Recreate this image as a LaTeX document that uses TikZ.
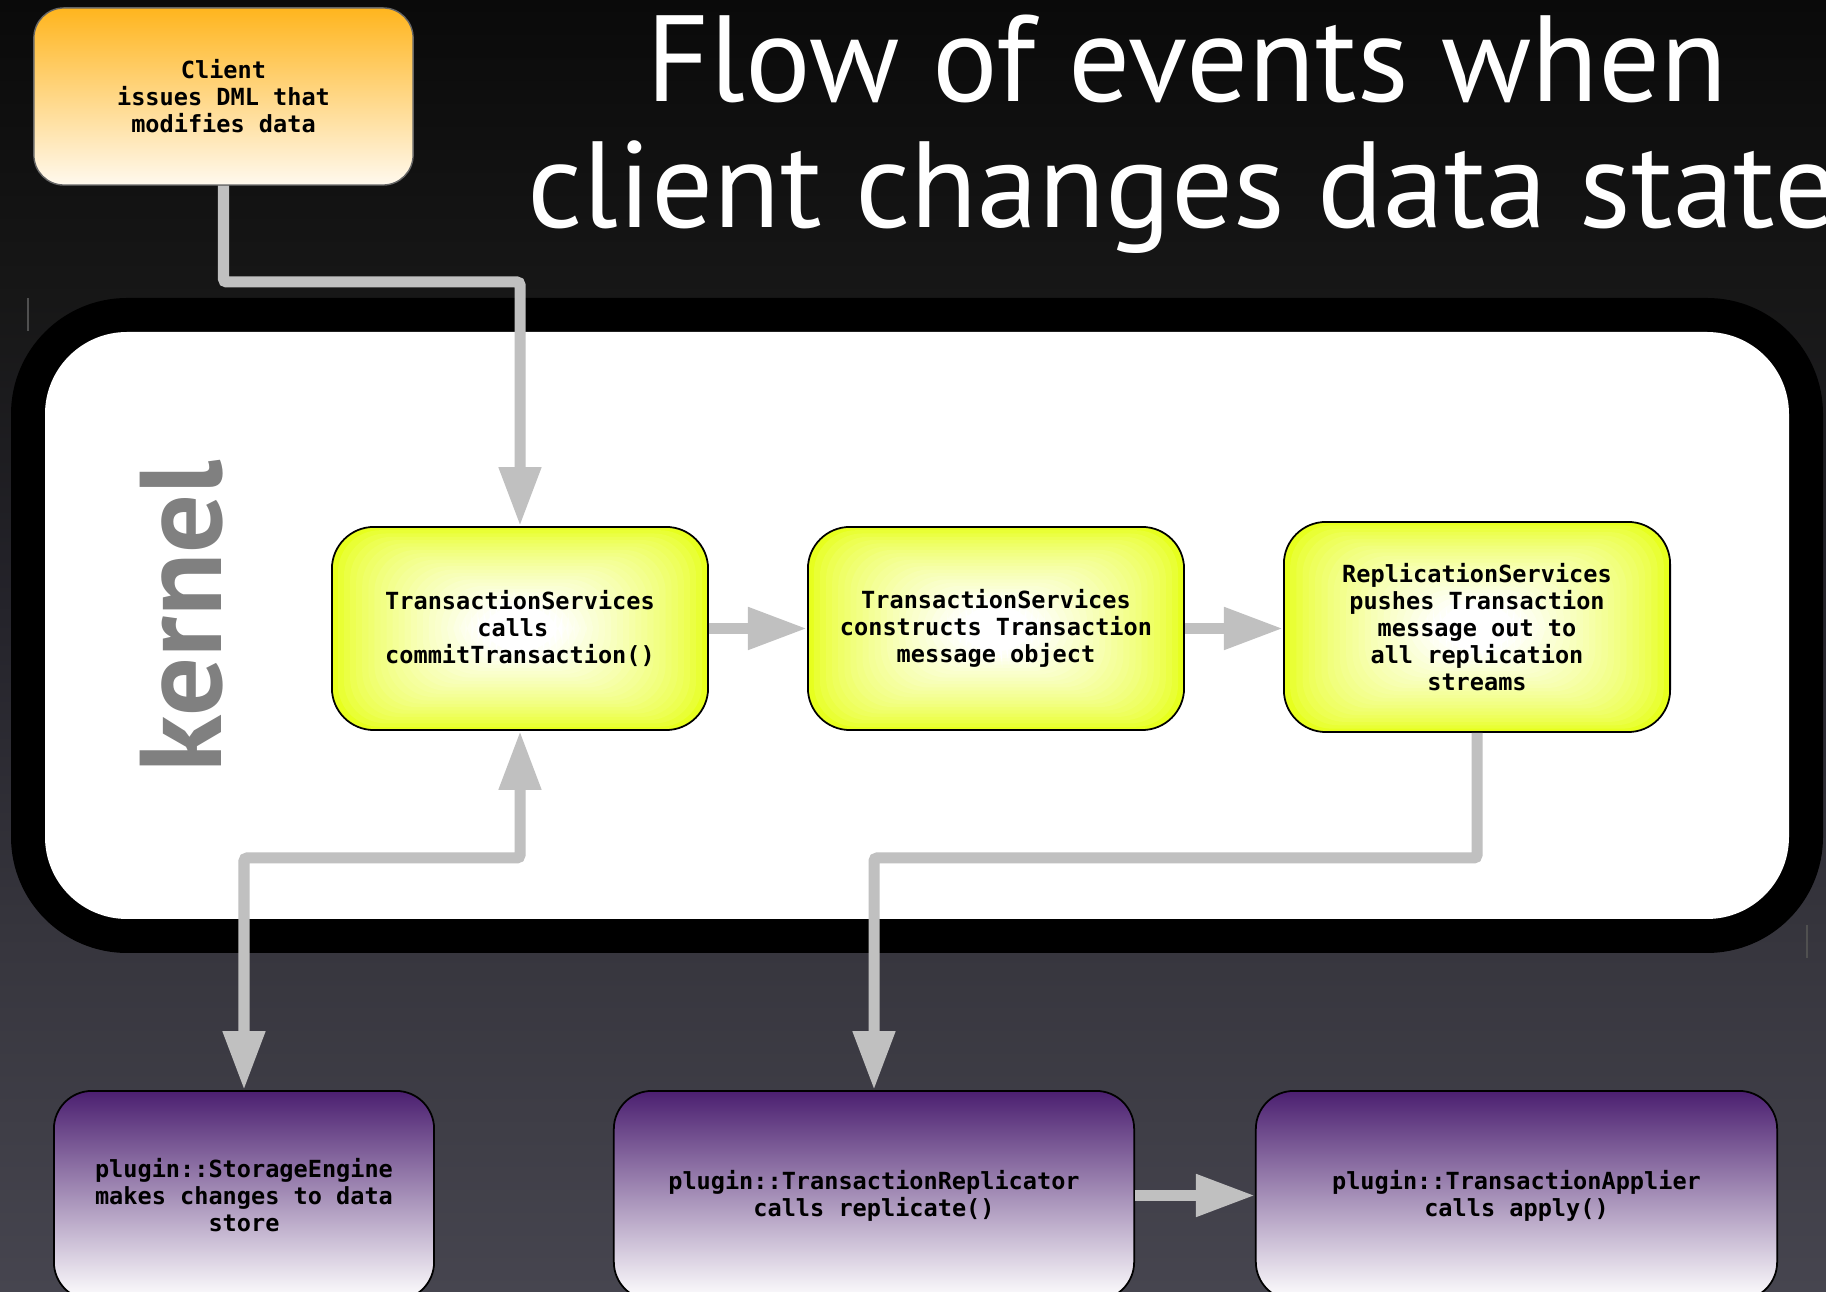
\documentclass[tikz,border=0pt]{standalone}
\usepackage{fontspec}
\setmainfont{DejaVu Sans}
\newfontfamily\titlefont{PT Sans}
\newfontfamily\monofont{DejaVu Sans Mono}
\usetikzlibrary{arrows.meta,calc}
\definecolor{bgA}{HTML}{0A0A0A}
\definecolor{bgB}{HTML}{171717}
\definecolor{bgC}{HTML}{24232A}
\definecolor{bgD}{HTML}{37363E}
\definecolor{bgE}{HTML}{46454F}
\definecolor{conncol}{HTML}{C0C0C0}
\definecolor{kgrey}{HTML}{808080}
\definecolor{orTop}{HTML}{FFB51E}
\definecolor{orBot}{HTML}{FFF9EE}
\definecolor{clientborder}{HTML}{666666}
\definecolor{yedge}{HTML}{E7FF1E}
\definecolor{puTop}{HTML}{4B1F70}
\definecolor{artline}{HTML}{505050}
\pgfdeclareverticalshading{bgshade}{100bp}{color(0bp)=(bgE); color(25bp)=(bgE); color(38.2bp)=(bgD); color(51.8bp)=(bgC); color(63.4bp)=(bgB); color(75bp)=(bgA); color(100bp)=(bgA)}
\newlength\titlew
\newlength\kernw
\tikzset{
  conn/.style={draw=conncol, line width=0.11cm, rounded corners=0.03cm, -{Triangle[length=0.59cm,width=0.40cm]}},
  boxtext/.style={font=\monofont\bfseries\fontsize{6.7pt}{7.7pt}\selectfont, align=center, text=black, inner sep=0pt},
  clientbox/.style={boxtext, rounded corners=0.30cm, draw=clientborder, line width=0.4pt, top color=orTop, bottom color=orBot, minimum width=3.79cm, minimum height=1.77cm},
  ybox/.style={boxtext, rounded corners=0.42cm, draw=black, line width=0.5pt, minimum height=2.03cm,
    path picture={
      \foreach \k in {0,...,30}{
        \pgfmathsetmacro\f{\k/31}
        \pgfmathtruncatemacro\p{min(100,100*(\k/24)^0.7)}
        \fill[fill=white!\p!yedge] ($(path picture bounding box.south west)!\f!(path picture bounding box.center)$) rectangle ($(path picture bounding box.north east)!\f!(path picture bounding box.center)$);
      }
    }},
  pbox/.style={boxtext, rounded corners=0.38cm, draw=black, line width=0.5pt, top color=puTop, bottom color=white, minimum height=2.09cm},
  titletext/.style={anchor=base, text=white, inner sep=0pt},
}
\begin{document}
\settowidth\titlew{\titlefont\fontsize{30pt}{36pt}\selectfont Flow of events when}
\settowidth\kernw{\titlefont\bfseries\fontsize{30pt}{36pt}\selectfont kernel}
\begin{tikzpicture}[x=0.01cm, y=-0.01cm]
\pgfmathsetmacro\tscale{10.81cm/\titlew}
\pgfmathsetmacro\kscale{3.12cm/\kernw}
\useasboundingbox (0,0) rectangle (1826,1292);
\fill[shading=bgshade] (0,0) rectangle (1826,1292);
% small artefact strokes
\draw[artline, line width=0.6pt] (28,298) -- (28,331);
\draw[artline, line width=0.6pt] (1807,925) -- (1807,958);
% title
\node[titletext] (title1) at (1187,102) {\scalebox{\tscale}{\titlefont\fontsize{30pt}{36pt}\selectfont Flow of events when}};
\node[titletext] (title2) at (1182,228) {\scalebox{\tscale}{\titlefont\fontsize{30pt}{36pt}\selectfont client changes data state}};
% kernel frame
\fill[black, rounded corners=1.16cm] (11,298) rectangle (1823,953);
\fill[white, rounded corners=0.82cm] (45,332) rectangle (1789,919);
\node[rotate=90, anchor=base, text=kgrey, inner sep=0pt] (kernel) at (221,616) {\scalebox{\kscale}{\titlefont\bfseries\fontsize{30pt}{36pt}\selectfont kernel}};
% nodes
\node[clientbox] (client) at (223.5,96.5) {Client\\issues DML that\\modifies data};
\node[ybox, minimum width=3.76cm] (ts1) at (520,628.5) {TransactionServices\\calls\hphantom{c}\\commitTransaction()};
\node[ybox, minimum width=3.76cm] (ts2) at (996,628.5) {TransactionServices\\constructs Transaction\\message object};
\node[ybox, minimum width=3.86cm, minimum height=2.10cm] (rs) at (1477,627) {ReplicationServices\\pushes Transaction\\message out to\\all replication\\streams};
\node[pbox, minimum width=3.80cm] (se) at (244,1195.5) {plugin::StorageEngine\\makes changes to data\\store};
\node[pbox, minimum width=5.20cm] (ptr) at (874,1195.5) {plugin::TransactionReplicator\\calls replicate()};
\node[pbox, minimum width=5.21cm] (pta) at (1516.5,1195.5) {plugin::TransactionApplier\\calls apply()};
% helper coordinates
\coordinate (c1) at (520,282);
\coordinate (c2) at (244,858);
\coordinate (c3) at (874,858);
% connectors
\draw[conn] (client.south) |- (c1) -- (ts1.north);
\draw[conn] (ts1.east) -- (ts2.west);
\draw[conn] (ts2.east) -- (ts2.east -| rs.west);
\draw[conn] (rs.south) |- (c3) -- (ptr.north);
\draw[conn, {Triangle[length=0.59cm,width=0.40cm]}-{Triangle[length=0.59cm,width=0.40cm]}] (ts1.south) |- (c2) -- (se.north);
\draw[conn] (ptr.east) -- (pta.west);
\end{tikzpicture}
\end{document}
